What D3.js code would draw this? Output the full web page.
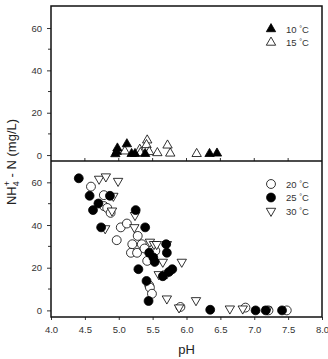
<html>
<head>
<script src="https://d3js.org/d3.v7.min.js"></script>
<style>
  body { margin: 0; background: #fff; }
  text { font-family: "Liberation Sans", Arial, sans-serif; }
</style>
</head>
<body>
<script>
// top panel: 10 and 15 degC (pH, NH4-N)
const t10pH = [4.97, 4.98, 4.95, 5.12, 5.19, 5.24, 5.39, 6.34, 6.45];
const t10N  = [1.6, 3.2, 0.5, 5.2, 0.6, 0.6, 0.6, 0.6, 0.8];
const t15pH = [5.09, 5.31, 5.42, 5.41, 5.45, 5.57, 5.72, 5.76, 6.15, 5.32];
const t15N  = [1.8, 2.6, 7.0, 4.8, 1.5, 1.0, 4.6, 0.8, 0.6, 1.0];

// bottom panel: 20, 25 and 30 degC
const t20pH = [4.59, 4.78, 4.78, 4.83, 4.88, 4.97, 5.03, 5.12, 5.28, 5.20, 5.18, 5.27, 5.34, 5.38, 5.42, 5.45, 5.46, 5.49, 5.54, 5.91, 6.87, 7.21, 7.48];
const t20N  = [58, 54, 48.9, 48, 45.7, 32.9, 38.9, 40.7, 34.9, 31, 27, 27, 31, 29, 23.2, 11.7, 10.7, 7.8, 27.9, 1.6, 1.3, 0, 0];
const t25pH = [4.41, 4.57, 4.62, 4.70, 4.74, 4.87, 5.25, 5.39, 5.29, 5.41, 5.44, 5.45, 5.51, 5.53, 5.70, 5.71, 5.74, 5.79, 5.65, 6.35, 7.02, 7.17, 7.41];
const t25N  = [61.9, 53.7, 47, 50.1, 38.9, 53.7, 47, 38.9, 19.3, 13.8, 4.4, 27, 24.8, 22.7, 31, 27, 18, 19.3, 16, 0.3, 0, 0, 0];
const t30pH = [4.71, 4.81, 4.99, 4.92, 4.90, 4.80, 5.24, 5.23, 5.46, 5.52, 5.56, 5.71, 5.65, 5.93, 5.59, 5.71, 5.71, 5.89, 6.14, 6.64, 6.83, 7.19];
const t30N  = [61.6, 62.7, 60.6, 53.6, 46.7, 38.4, 44.6, 38.9, 32.1, 31, 31, 31, 22.7, 22.7, 16.9, 17.2, 5.5, 1.3, 4.7, 0.8, 0.8, 0.3];

const xTicks = [4.0, 4.5, 5.0, 5.5, 6.0, 6.5, 7.0, 7.5, 8.0];
const yTicks = [0, 20, 40, 60];
const yMinor = [10, 30, 50];

const W = 328, H = 359;
const left = 51, right = 322;
const top1 = 6, mid = 161, bot2 = 317;

const svg = d3.select('body').append('svg').attr('width', W).attr('height', H);

const x = d3.scaleLinear().domain([4, 8]).range([left, right]);
const y1 = d3.scaleLinear().domain([-2.8, 70.4]).range([mid, top1]);
const y2 = d3.scaleLinear().domain([-3.1, 70]).range([bot2, mid]);

const tickCol = '#333';

function yAxis(sc) {
  const g = svg.append('g').attr('transform', 'translate(' + left + ',0)');
  g.call(d3.axisLeft(sc).tickValues(yTicks).tickFormat(d3.format('d')).tickSize(4).tickPadding(5));
  g.call(a => a.select('.domain').remove());
  g.selectAll('.tick line').attr('stroke', tickCol);
  g.selectAll('.tick text').attr('fill', tickCol).style('font-size', '9.5px');
  g.selectAll('.minor').data(yMinor).enter().append('line')
    .attr('x1', -3).attr('x2', 0)
    .attr('y1', d => sc(d)).attr('y2', d => sc(d))
    .attr('stroke', tickCol);
}
yAxis(y1);
yAxis(y2);

// ticks on divider, pointing up into top panel
svg.append('g').selectAll('line').data(xTicks.slice(1, -1)).enter().append('line')
  .attr('x1', d => x(d)).attr('x2', d => x(d))
  .attr('y1', mid).attr('y2', mid - 3).attr('stroke', tickCol);

const xg = svg.append('g').attr('transform', 'translate(0,' + bot2 + ')');
xg.call(d3.axisBottom(x).tickValues(xTicks).tickFormat(d3.format('.1f')).tickSize(3).tickPadding(6));
xg.select('.domain').remove();
xg.selectAll('.tick line').attr('stroke', tickCol);
xg.selectAll('.tick text').attr('fill', tickCol).style('font-size', '9.5px');

// frame
svg.append('rect').attr('x', left).attr('y', top1).attr('width', right - left).attr('height', bot2 - top1)
  .attr('fill', 'none').attr('stroke', '#111').attr('stroke-width', 1.5);
svg.append('line').attr('x1', left).attr('x2', right).attr('y1', mid).attr('y2', mid)
  .attr('stroke', '#111').attr('stroke-width', 1.5);

const tri = d3.symbol().type(d3.symbolTriangle).size(38);
const circ = d3.symbol().type(d3.symbolCircle).size(62);

function drawSeries(xs, ys, sc, sym, fill, flip) {
  svg.append('g').selectAll('path').data(xs).enter().append('path')
    .attr('d', sym)
    .attr('transform', (d, i) => 'translate(' + x(d) + ',' + sc(ys[i]) + ')' + (flip ? ' rotate(180)' : ''))
    .attr('fill', fill).attr('stroke', '#000').attr('stroke-width', 0.8);
}
drawSeries(t15pH, t15N, y1, tri, '#fff', false);
drawSeries(t10pH, t10N, y1, tri, '#000', false);
drawSeries(t20pH, t20N, y2, circ, '#fff', false);
drawSeries(t30pH, t30N, y2, tri, '#fff', true);
drawSeries(t25pH, t25N, y2, circ, '#000', false);

// legends
function legend(items, y0) {
  items.forEach((it, i) => {
    const yy = y0 + i * 13.5;
    svg.append('path').attr('d', it.sym)
      .attr('transform', 'translate(271,' + yy + ')' + (it.flip ? ' rotate(180)' : ''))
      .attr('fill', it.fill).attr('stroke', '#000').attr('stroke-width', 0.8);
    const t = svg.append('text').attr('x', 286).attr('y', yy + 3.5).attr('fill', tickCol).style('font-size', '9.5px');
    t.append('tspan').text(it.label + ' ');
    t.append('tspan').text('°').attr('dy', -2).style('font-size', '7px');
    t.append('tspan').text('C').attr('dy', 2);
  });
}
legend([{ sym: tri, fill: '#000', label: '10' }, { sym: tri, fill: '#fff', label: '15' }], 29);
legend([{ sym: circ, fill: '#fff', label: '20' }, { sym: circ, fill: '#000', label: '25' },
        { sym: tri, fill: '#fff', label: '30', flip: true }], 184);

// axis titles
svg.append('text').attr('x', (left + right) / 2).attr('y', 354).attr('text-anchor', 'middle')
  .attr('fill', '#222').style('font-size', '13px').text('pH');

const yl = svg.append('text').attr('transform', 'translate(16,162) rotate(-90)').attr('text-anchor', 'middle')
  .attr('fill', '#222').style('font-size', '13px');
yl.append('tspan').text('NH');
yl.append('tspan').text('4').attr('dy', 3).style('font-size', '9px');
yl.append('tspan').text('+').attr('dy', -9).attr('dx', -5).style('font-size', '9px');
yl.append('tspan').text(' - N (mg/L)').attr('dy', 6);
</script>
</body>
</html>
